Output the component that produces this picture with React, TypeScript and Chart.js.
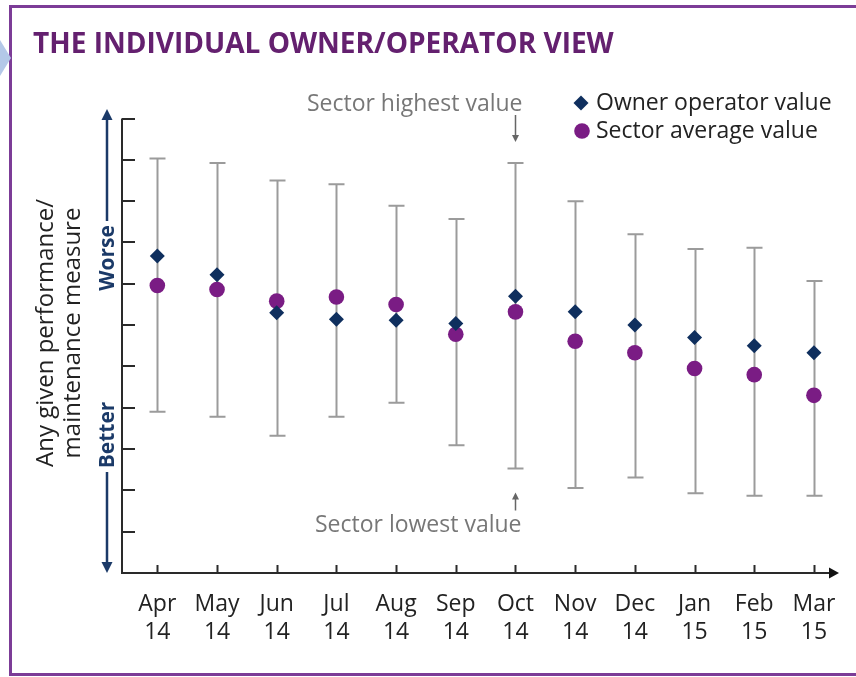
import React, { useEffect, useRef } from 'react';
import { Chart, registerables } from 'chart.js';

Chart.register(...registerables);

// ---------- data ----------
const months = ['Apr', 'May', 'Jun', 'Jul', 'Aug', 'Sep', 'Oct', 'Nov', 'Dec', 'Jan', 'Feb', 'Mar'];
const years = ['14', '14', '14', '14', '14', '14', '14', '14', '14', '15', '15', '15'];
const ownerValues = [7.67, 7.22, 6.3, 6.14, 6.12, 6.04, 6.7, 6.32, 6.0, 5.7, 5.5, 5.33];
const averageValues = [6.96, 6.86, 6.58, 6.68, 6.5, 5.78, 6.32, 5.61, 5.33, 4.95, 4.8, 4.3];
const highestValues = [10.03, 9.92, 9.5, 9.41, 8.89, 8.57, 9.92, 9.0, 8.2, 7.84, 7.87, 7.07];
const lowestValues = [3.9, 3.78, 3.32, 3.78, 4.12, 3.09, 2.53, 2.06, 2.31, 1.93, 1.87, 1.87];
const yTicks = [1, 2, 3, 4, 5, 6, 7, 8, 9, 10, 11];

const titleText = 'THE INDIVIDUAL OWNER/OPERATOR VIEW';
const yTitleLines = ['Any given performance/', 'maintenance measure'];
const ownerLabel = 'Owner operator value';
const averageLabel = 'Sector average value';
const highestNote = 'Sector highest value';
const lowestNote = 'Sector lowest value';
const annotatedIndex = 6;

const FONT = '"Open Sans", "Noto Sans", sans-serif';
const NAVY = '#0f2f5e';
const PURPLE = '#7a1c84';
const AXIS_NAVY = '#1b3a68';

function arrowHead(ctx: CanvasRenderingContext2D, x: number, y: number, dir: 'up' | 'down' | 'right', len: number, half: number) {
  ctx.beginPath();
  if (dir === 'up') {
    ctx.moveTo(x, y); ctx.lineTo(x - half, y + len); ctx.lineTo(x + half, y + len);
  } else if (dir === 'down') {
    ctx.moveTo(x, y); ctx.lineTo(x - half, y - len); ctx.lineTo(x + half, y - len);
  } else {
    ctx.moveTo(x, y); ctx.lineTo(x - len, y - half); ctx.lineTo(x - len, y + half);
  }
  ctx.closePath();
  ctx.fill();
}

const decorPlugin = {
  id: 'decor',
  beforeDraw(chart: any) {
    const { ctx, width, height } = chart;
    ctx.save();
    ctx.fillStyle = '#ffffff';
    ctx.fillRect(0, 0, width, height);
    // frame
    ctx.strokeStyle = '#7c3c97';
    ctx.lineWidth = 3;
    ctx.strokeRect(10.5, 6.5, width + 10, 668);
    // side tab
    ctx.fillStyle = '#b3c8e8';
    ctx.beginPath();
    ctx.moveTo(0, 40); ctx.lineTo(11, 58); ctx.lineTo(0, 76); ctx.closePath();
    ctx.fill();
    // title
    ctx.fillStyle = '#64206f';
    ctx.font = `bold 26px ${FONT}`;
    const w = ctx.measureText(titleText).width;
    const size = 26 * 581 / w;
    ctx.font = `bold ${size.toFixed(2)}px ${FONT}`;
    ctx.textBaseline = 'middle';
    ctx.textAlign = 'left';
    ctx.fillText(titleText, 33, 45);
    ctx.restore();
  },
  beforeDatasetsDraw(chart: any) {
    const { ctx, scales: { x, y } } = chart;
    ctx.save();
    ctx.strokeStyle = '#9b9b9b';
    ctx.lineWidth = 2;
    for (let i = 0; i < months.length; i++) {
      const cx = Math.round(x.getPixelForValue(i)) + 0.5;
      const yh = y.getPixelForValue(highestValues[i]);
      const yl = y.getPixelForValue(lowestValues[i]);
      ctx.beginPath();
      ctx.moveTo(cx, yh); ctx.lineTo(cx, yl);
      ctx.moveTo(cx - 8, yh); ctx.lineTo(cx + 8, yh);
      ctx.moveTo(cx - 8, yl); ctx.lineTo(cx + 8, yl);
      ctx.stroke();
    }
    ctx.restore();
  },
  afterDraw(chart: any) {
    const { ctx, chartArea, scales: { x, y } } = chart;
    const left = chartArea.left;
    const bottom = y.getPixelForValue(0);
    const top = y.getPixelForValue(11);
    ctx.save();
    // axes
    ctx.strokeStyle = '#2a2a2a';
    ctx.fillStyle = '#111111';
    ctx.lineWidth = 2;
    ctx.beginPath();
    ctx.moveTo(left, top); ctx.lineTo(left, bottom);
    ctx.lineTo(chartArea.right - 6, bottom);
    ctx.stroke();
    arrowHead(ctx, chartArea.right, bottom, 'right', 10, 5.5);
    // y ticks (inner)
    ctx.beginPath();
    for (const t of yTicks) {
      const py = Math.round(y.getPixelForValue(t));
      ctx.moveTo(left, py); ctx.lineTo(left + 13, py);
    }
    // x ticks (inner)
    for (let i = 0; i < months.length; i++) {
      const px = Math.round(x.getPixelForValue(i)) + 0.5;
      ctx.moveTo(px, bottom); ctx.lineTo(px, bottom - 8);
    }
    ctx.stroke();

    // navy better/worse arrow
    const ax = 107;
    ctx.strokeStyle = AXIS_NAVY;
    ctx.fillStyle = AXIS_NAVY;
    ctx.lineWidth = 2.5;
    ctx.beginPath();
    ctx.moveTo(ax, top - 2); ctx.lineTo(ax, 221);
    ctx.moveTo(ax, 472); ctx.lineTo(ax, bottom - 6);
    ctx.stroke();
    arrowHead(ctx, ax, 109, 'up', 11, 5.5);
    arrowHead(ctx, ax, bottom, 'down', 11, 5.5);
    ctx.font = `bold 21px ${FONT}`;
    ctx.textAlign = 'center';
    ctx.textBaseline = 'middle';
    ctx.save();
    ctx.translate(ax + 1, 258);
    ctx.rotate(-Math.PI / 2);
    ctx.fillText('Worse', 0, 0);
    ctx.restore();
    ctx.save();
    ctx.translate(ax + 1, 435);
    ctx.rotate(-Math.PI / 2);
    ctx.fillText('Better', 0, 0);
    ctx.restore();

    // y title
    ctx.fillStyle = '#222222';
    ctx.font = `24px ${FONT}`;
    ctx.save();
    ctx.translate(46, 333);
    ctx.rotate(-Math.PI / 2);
    ctx.fillText(yTitleLines[0], 0, 0);
    ctx.fillText(yTitleLines[1], 0, 27);
    ctx.restore();

    // legend
    ctx.font = `23px ${FONT}`;
    ctx.textAlign = 'left';
    ctx.fillStyle = NAVY;
    ctx.beginPath();
    ctx.moveTo(581, 95.5); ctx.lineTo(588.5, 103); ctx.lineTo(581, 110.5); ctx.lineTo(573.5, 103); ctx.closePath();
    ctx.fill();
    ctx.fillStyle = PURPLE;
    ctx.beginPath();
    ctx.arc(582, 131, 7.8, 0, Math.PI * 2);
    ctx.fill();
    ctx.fillStyle = '#222222';
    ctx.fillText(ownerLabel, 596, 103);
    ctx.fillText(averageLabel, 596, 131);

    // annotations
    const ox = Math.round(x.getPixelForValue(annotatedIndex)) + 0.5;
    const oh = y.getPixelForValue(highestValues[annotatedIndex]);
    const ol = y.getPixelForValue(lowestValues[annotatedIndex]);
    ctx.fillStyle = '#777777';
    ctx.textAlign = 'right';
    ctx.fillText(highestNote, ox + 7, oh - 59);
    ctx.fillText(lowestNote, ox + 6, ol + 57);
    ctx.strokeStyle = '#666666';
    ctx.fillStyle = '#666666';
    ctx.lineWidth = 1.5;
    ctx.beginPath();
    ctx.moveTo(ox, oh - 48); ctx.lineTo(ox, oh - 26);
    ctx.moveTo(ox, ol + 42); ctx.lineTo(ox, ol + 30);
    ctx.stroke();
    arrowHead(ctx, ox, oh - 21, 'down', 7, 3.5);
    arrowHead(ctx, ox, ol + 24, 'up', 7, 3.5);
    ctx.restore();
  },
};

export default function App() {
  const canvasRef = useRef<HTMLCanvasElement | null>(null);

  useEffect(() => {
    const canvas = canvasRef.current;
    if (!canvas) return;
    const chart = new Chart(canvas, {
      type: 'scatter',
      data: {
        datasets: [
          {
            label: ownerLabel,
            data: ownerValues.map((v, i) => ({ x: i, y: v })),
            pointStyle: 'rectRot',
            pointRadius: 7.5,
            pointHoverRadius: 7.5,
            backgroundColor: NAVY,
            borderColor: NAVY,
            borderWidth: 0,
          },
          {
            label: averageLabel,
            data: averageValues.map((v, i) => ({ x: i, y: v })),
            pointStyle: 'circle',
            pointRadius: 7.8,
            pointHoverRadius: 7.8,
            backgroundColor: PURPLE,
            borderColor: PURPLE,
            borderWidth: 0,
          },
        ],
      },
      options: {
        responsive: false,
        animation: false,
        events: [],
        layout: { padding: { left: 122, right: 17, top: 118.5, bottom: 0 } },
        plugins: {
          legend: { display: false },
          tooltip: { enabled: false },
          title: { display: false },
        },
        scales: {
          x: {
            type: 'linear',
            min: -0.592,
            max: 11.42,
            grid: { display: false, drawTicks: false },
            border: { display: false },
            afterBuildTicks: (scale: any) => {
              scale.ticks = months.map((_, i) => ({ value: i }));
            },
            afterFit: (scale: any) => {
              scale.height = 104;
            },
            ticks: {
              autoSkip: false,
              maxRotation: 0,
              minRotation: 0,
              padding: 17,
              color: '#222222',
              font: { family: FONT, size: 23, lineHeight: 1.22 },
              callback: (_v: any, index: number) => [months[index], years[index]],
            },
          },
          y: {
            type: 'linear',
            display: false,
            min: 0,
            max: 11,
            afterBuildTicks: (scale: any) => {
              scale.ticks = yTicks.map((v) => ({ value: v }));
            },
          },
        },
      },
      plugins: [decorPlugin],
    });
    return () => chart.destroy();
  }, []);

  return (
    <div style={{ position: 'absolute', left: 0, top: 0, width: 856, height: 677 }}>
      <canvas ref={canvasRef} width={856} height={677} style={{ display: 'block' }} />
    </div>
  );
}
